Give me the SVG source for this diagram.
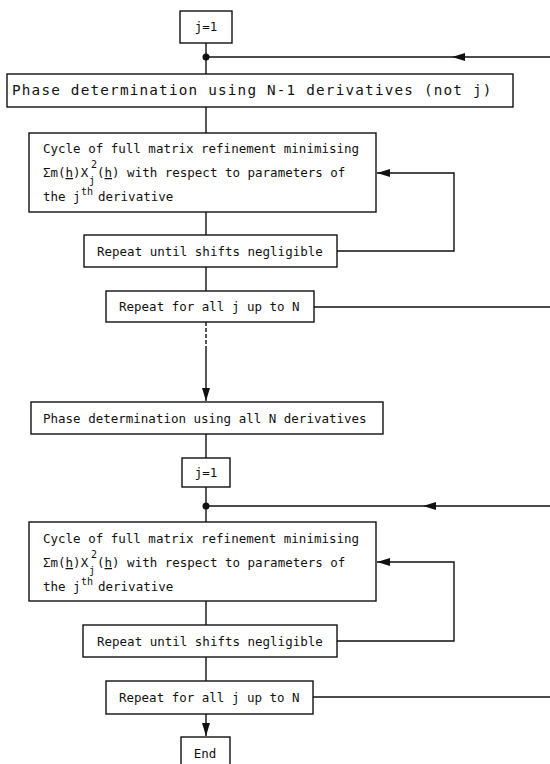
<svg xmlns="http://www.w3.org/2000/svg" width="550" height="764" viewBox="0 0 550 764">
<style>
.box{fill:#fff;stroke:#111;stroke-width:1.4}
.t{font-family:"DejaVu Sans Mono","Liberation Mono",monospace;font-size:12.5px;fill:#111}
.big{font-size:14.3px;letter-spacing:1.2px}
.s{font-family:"DejaVu Sans Mono","Liberation Mono",monospace;font-size:10px;fill:#111}
.u{text-decoration:underline}
.c{fill:none;stroke:#111;stroke-width:1.4}
</style>
<defs>
<marker id="ah" markerWidth="14" markerHeight="10" refX="13" refY="4.5" orient="auto" markerUnits="userSpaceOnUse">
<path d="M0,0.5 L13,4.5 L0,8.5 Z" fill="#111"/>
</marker>
</defs>
<rect width="550" height="764" fill="#fff"/>
<g id="connectors">
<line class="c" x1="206" y1="43" x2="206" y2="74"/>
<circle cx="206" cy="57" r="3.5" fill="#111"/>
<line class="c" x1="550" y1="57" x2="207" y2="57"/>
<path d="M452,57 L465,53 L465,61 Z" fill="#111"/>
<line class="c" x1="206" y1="107" x2="206" y2="133"/>
<line class="c" x1="206" y1="212" x2="206" y2="235"/>
<polyline class="c" points="337,251 454,251 454,173 377,173" marker-end="url(#ah)"/>
<line class="c" x1="206" y1="267" x2="206" y2="291"/>
<line class="c" x1="314" y1="307" x2="550" y2="307"/>
<line class="c" x1="206" y1="322" x2="206" y2="350" stroke-dasharray="4 2"/>
<line class="c" x1="206" y1="350" x2="206" y2="401" marker-end="url(#ah)"/>
<line class="c" x1="206" y1="434" x2="206" y2="458"/>
<line class="c" x1="206" y1="487" x2="206" y2="522"/>
<circle cx="206" cy="506" r="3.5" fill="#111"/>
<line class="c" x1="550" y1="506" x2="207" y2="506"/>
<path d="M423,506 L436,502 L436,510 Z" fill="#111"/>
<line class="c" x1="206" y1="601" x2="206" y2="625"/>
<polyline class="c" points="337,641 454,641 454,562 377,562" marker-end="url(#ah)"/>
<line class="c" x1="206" y1="657" x2="206" y2="681"/>
<line class="c" x1="313" y1="697" x2="550" y2="697"/>
<line class="c" x1="206" y1="714" x2="206" y2="736" marker-end="url(#ah)"/>
</g>
<g id="start1">
<rect class="box" x="180" y="11" width="52" height="32"/>
<text class="t" x="206" y="31" text-anchor="middle">j=1</text>
</g>
<g id="phase1">
<rect class="box" x="7" y="74" width="506" height="33"/>
<text class="t big" x="12" y="95">Phase determination using N-1 derivatives (not j)</text>
</g>
<g id="cycle1">
<rect class="box" x="29" y="133" width="347" height="79"/>
<text class="t" x="43" y="153">Cycle of full matrix refinement minimising</text>
<text class="t" x="43" y="177">Σm(<tspan class="u">h</tspan>)X</text>
<text class="s" x="89" y="184">j</text>
<text class="s" x="91" y="168">2</text>
<text class="t" x="97" y="177">(<tspan class="u">h</tspan>) with respect to parameters of</text>
<text class="t" x="43" y="201">the j</text>
<text class="s" x="81" y="195">th</text>
<text class="t" x="98" y="201">derivative</text>
</g>
<g id="until1">
<rect class="box" x="84" y="235" width="253" height="32"/>
<text class="t" x="97" y="256">Repeat until shifts negligible</text>
</g>
<g id="forall1">
<rect class="box" x="106" y="291" width="208" height="31"/>
<text class="t" x="119" y="311">Repeat for all j up to N</text>
</g>
<g id="phase2">
<rect class="box" x="31" y="402" width="352" height="32"/>
<text class="t" x="43" y="423">Phase determination using all N derivatives</text>
</g>
<g id="start2">
<rect class="box" x="182" y="458" width="48" height="29"/>
<text class="t" x="206" y="477" text-anchor="middle">j=1</text>
</g>
<g id="cycle2">
<rect class="box" x="29" y="522" width="347" height="79"/>
<text class="t" x="43" y="543">Cycle of full matrix refinement minimising</text>
<text class="t" x="43" y="567">Σm(<tspan class="u">h</tspan>)X</text>
<text class="s" x="89" y="574">j</text>
<text class="s" x="91" y="558">2</text>
<text class="t" x="97" y="567">(<tspan class="u">h</tspan>) with respect to parameters of</text>
<text class="t" x="43" y="591">the j</text>
<text class="s" x="81" y="585">th</text>
<text class="t" x="98" y="591">derivative</text>
</g>
<g id="until2">
<rect class="box" x="83" y="625" width="254" height="32"/>
<text class="t" x="97" y="646">Repeat until shifts negligible</text>
</g>
<g id="forall2">
<rect class="box" x="106" y="681" width="207" height="33"/>
<text class="t" x="119" y="702">Repeat for all j up to N</text>
</g>
<g id="end">
<rect class="box" x="181" y="737" width="49" height="40"/>
<text class="t" x="205" y="758" text-anchor="middle">End</text>
</g>
</svg>
